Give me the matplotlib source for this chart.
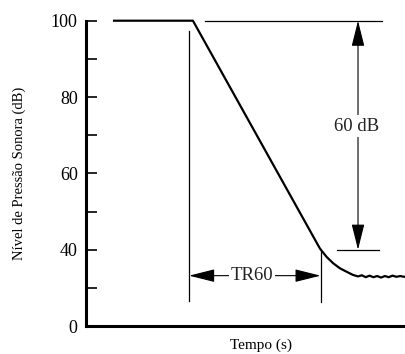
import matplotlib
matplotlib.use("Agg")
import matplotlib.pyplot as plt

plt.rcParams['font.family'] = ['Liberation Serif', 'DejaVu Serif']

# curva de decaimento (tempo arbitrário, nível em dB)
tempo = [0.875, 3.34, 7.31, 7.52, 7.73, 7.94, 8.15, 8.34, 8.50, 8.62, 8.74,
         8.86, 8.98, 9.10, 9.22, 9.34, 9.46, 9.58, 9.70, 9.82, 9.94, 10.0]
nivel = [100, 100, 40.3, 38.1, 36.4, 35.1, 34.2, 33.4, 33.0, 33.3, 32.8,
         33.2, 32.8, 33.1, 32.7, 33.1, 32.8, 33.2, 32.9, 33.1, 32.9, 33.0]

yticks = [20, 40, 60, 80, 100]
yticklabels = ['0', '40', '60', '80', '100']
yminor = [30, 50, 70, 90]

t_ini, t_fim = 3.22, 7.33      # linhas verticais do TR60
t_seta = 8.5                   # seta de 60 dB
nivel_topo, nivel_base = 100, 40

fig = plt.figure(figsize=(4.06, 3.54), dpi=100)
ax = fig.add_axes([0.212, 0.079, 0.788, 0.8625])

ax.plot(tempo, nivel, color='black', lw=1.6, clip_on=False)

# linhas de referência
ax.plot([t_ini, t_ini], [26.5, 97.4], color='black', lw=0.9)
ax.plot([t_fim, t_fim], [26.2, 39.7], color='black', lw=0.9)
ax.plot([3.72, 9.25], [nivel_topo, nivel_topo], color='black', lw=0.9, clip_on=False)
ax.plot([7.84, 9.16], [nivel_base, nivel_base], color='black', lw=0.9)

estilo = '<|-|>,head_length=1.6,head_width=0.4'
ax.annotate('', xy=(t_seta, nivel_topo), xytext=(t_seta, nivel_base),
            arrowprops=dict(arrowstyle=estilo, lw=0.8, color='black',
                            shrinkA=0, shrinkB=0), annotation_clip=False)
ax.text(8.44, 72.4, '60 dB', ha='center', va='center', fontsize=13.5,
        color='#222222', bbox=dict(fc='white', ec='none', pad=1.5))

ax.annotate('', xy=(t_ini, 33.2), xytext=(t_fim, 33.2),
            arrowprops=dict(arrowstyle=estilo, lw=0.8, color='black',
                            shrinkA=0, shrinkB=0))
ax.text(5.19, 33.2, 'TR60', ha='center', va='center', fontsize=13.5,
        color='#222222', bbox=dict(fc='white', ec='none', pad=1.5))

ax.set_xlim(0, 10)
ax.set_ylim(20, 100)
ax.set_yticks(yticks)
ax.set_yticklabels(yticklabels)
ax.set_yticks(yminor, minor=True)
ax.set_xticks([])
ax.tick_params(axis='y', which='both', direction='in', length=8, width=1.2,
               labelsize=13, pad=6)

for lado in ['top', 'right']:
    ax.spines[lado].set_visible(False)
ax.spines['left'].set_linewidth(2.2)
ax.spines['bottom'].set_linewidth(2.2)

ax.set_ylabel('Nível de Pressão Sonora (dB)', fontsize=10.5, labelpad=18)
fig.text(0.643, 0.025, 'Tempo (s)', ha='center', va='center', fontsize=11)

fig.savefig('out.png', dpi=100)
